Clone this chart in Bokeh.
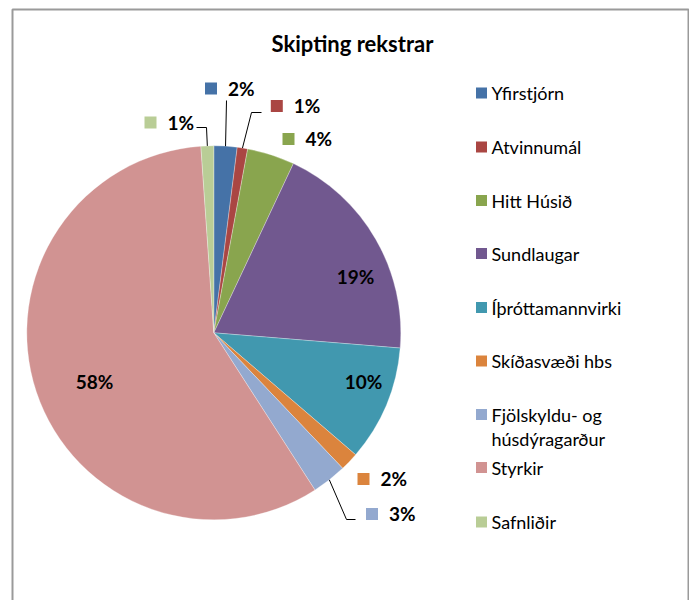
import math
from bokeh.plotting import figure
from bokeh.models import ColumnDataSource
from bokeh.core.properties import value
from bokeh.embed import file_html
from bokeh.resources import INLINE

# ---- data ----
categories = ["Yfirstjórn", "Atvinnumál", "Hitt Húsið", "Sundlaugar", "Íþróttamannvirki",
              "Skíðasvæði hbs", "Fjölskyldu- og húsdýragarður", "Styrkir", "Safnliðir"]
shares = [2.0, 0.9, 4.1, 19.3, 10.0, 1.6, 3.0, 58.0, 1.1]
pct_labels = ["2%", "1%", "4%", "19%", "10%", "2%", "3%", "58%", "1%"]
colors = ["#4572A7", "#AA4643", "#89A54E", "#71588F", "#4198AF",
          "#DB843D", "#93A9CF", "#D19392", "#B9CD96"]
title = "Skipting rekstrar"

# ---- layout (picture pixel positions) ----
W, H = 689, 600
OX, OY = 0, 600
def X(sx): return sx - OX
def Y(sy): return OY - sy

CX, CY, R = X(213.3), Y(332.3), 187

# label anchors: (square centre x, y) for outside labels, text centre for inside
label_pos = [(210.5, 88), (276.3, 105.5), (288, 138.5), (355, 276), (363, 381),
             (363, 478.5), (371.5, 513.5), (94, 381), (150, 122)]
inside = [False, False, False, True, True, False, False, True, False]
# leader line points near labels (path continues from arc at slice mid-angle)
leaders = {0: [(226, 100)], 1: [(251, 112), (261, 112)], 8: [(206, 127), (196, 127)],
           6: [(346, 519), (355, 519)]}

FONT = "Lato"

p = figure(width=W, height=H, x_range=(0, W), y_range=(0, H), output_backend="svg",
           toolbar_location=None, min_border=0, tools="")
p.axis.visible = False
p.grid.visible = False
p.outline_line_color = None
p.background_fill_color = "white"
p.border_fill_color = "white"

# pie wedges, clockwise from 12 o'clock
total = sum(shares)
cum = [0.0]
for s in shares:
    cum.append(cum[-1] + s / total)
starts = [math.pi / 2 - 2 * math.pi * cum[i + 1] for i in range(len(shares))]
ends = [math.pi / 2 - 2 * math.pi * cum[i] for i in range(len(shares))]
src = ColumnDataSource(dict(start=starts, end=ends, color=colors))
p.wedge(x=CX, y=CY, radius=R, start_angle="start", end_angle="end",
        fill_color="color", line_color="white", line_width=0.3, source=src)

# leader lines from arc (mid-angle) to label
for i, pts in leaders.items():
    mid = math.pi / 2 - 2 * math.pi * (cum[i] + cum[i + 1]) / 2
    ax, ay = CX + R * math.cos(mid), CY + R * math.sin(mid)
    xs = [ax] + [X(px) for px, _ in pts]
    ys = [ay] + [Y(py) for _, py in pts]
    p.line(xs, ys, line_color="black", line_width=1)

# data labels
for i, (lx, ly) in enumerate(label_pos):
    if inside[i]:
        p.text([X(lx)], [Y(ly)], text=[pct_labels[i]], text_align="center",
               text_baseline="middle", text_font=value(FONT), text_font_style="bold",
               text_font_size="19px", text_color="black")
    else:
        p.scatter([X(lx)], [Y(ly)], marker="square", size=12, fill_color=colors[i],
                  line_color=None)
        p.text([X(lx) + 17], [Y(ly) + 0.5], text=[pct_labels[i]], text_align="left",
               text_baseline="middle", text_font=value(FONT), text_font_style="bold",
               text_font_size="19px", text_color="black")

# legend
leg_y = [92.5, 146.5, 200, 253, 307, 360.5, 414, 467, 521.5]
for i, name in enumerate(categories):
    p.scatter([X(481)], [Y(leg_y[i])], marker="square", size=11, fill_color=colors[i],
              line_color=None)
    if name.startswith("Fjölskyldu"):
        lines = ["Fjölskyldu- og", "húsdýragarður"]
    else:
        lines = [name]
    for k, t in enumerate(lines):
        p.text([X(491)], [Y(leg_y[i] + k * 24)], text=[t], text_align="left",
               text_baseline="middle", text_font=value(FONT), text_font_size="18px",
               text_color="black")

# title
p.text([X(352)], [Y(43)], text=[title], text_align="center", text_baseline="middle",
       text_font=value(FONT), text_font_style="bold", text_font_size="22px",
       text_color="black")

# chart-area border (bottom is outside the view)
p.line([X(12), X(12), X(688), X(688)], [0, Y(9), Y(9), 0],
       line_color="#9a9a9a", line_width=2)

open("out.html", "w").write(file_html(p, INLINE))
